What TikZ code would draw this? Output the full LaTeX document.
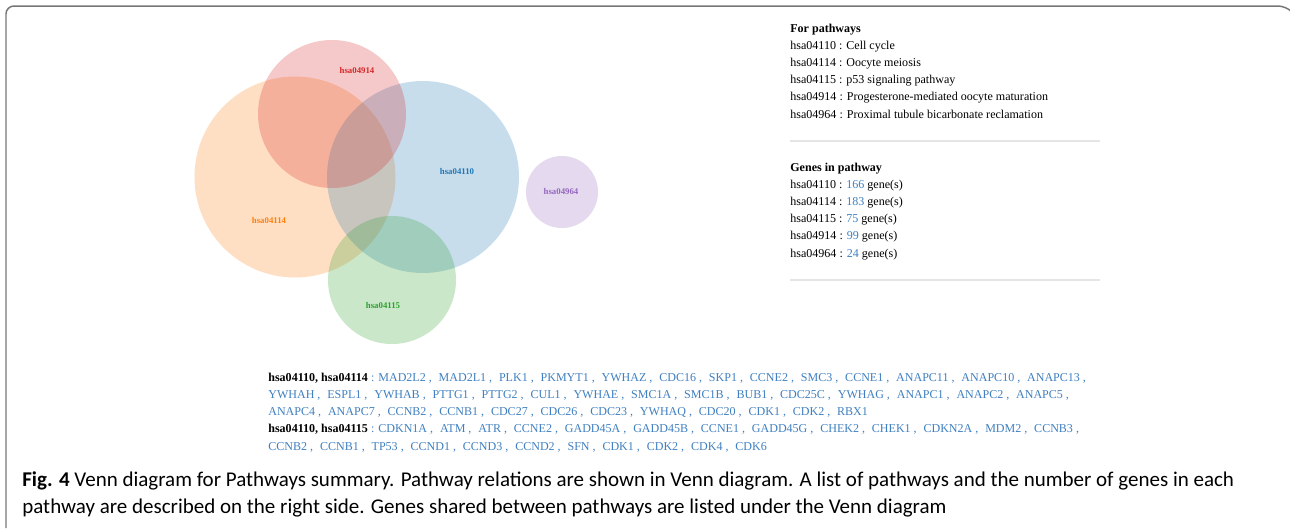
\documentclass[tikz,border=0pt]{standalone}
\usepackage{fontspec}
\setmainfont{Liberation Serif}
\newfontfamily\capfont{Carlito}

\definecolor{cBlue}{HTML}{1F77B4}
\definecolor{cOrange}{HTML}{FF7F0E}
\definecolor{cGreen}{HTML}{2CA02C}
\definecolor{cRed}{HTML}{D62728}
\definecolor{cPurple}{HTML}{9467BD}
\definecolor{geneblue}{HTML}{3F7FC0}
\definecolor{framegray}{HTML}{767676}

\tikzstyle{venn} = [fill opacity=0.25]
\tikzstyle{vlabel} = [inner sep=0pt, font=\fontsize{5}{6}\selectfont\bfseries]
\tikzstyle{info} = [anchor=base west, align=left, inner sep=0pt, font=\fontsize{6.85}{9.7}\selectfont]
\tikzstyle{rule} = [draw=black!10, line width=0.6pt]
\tikzstyle{caption} = [anchor=base west, inner sep=0pt, font=\capfont\fontsize{11.95}{15.3}\selectfont]

\newcommand{\gn}[1]{\textcolor{geneblue}{#1}}
\newcommand{\gsep}{ ,\hspace{3.9pt}}

\begin{document}
\begin{tikzpicture}[x=0.02cm, y=-0.02cm]
    %\draw[step=50,gray,very thin] (0,0) grid (1290,528);
    \useasboundingbox (0,0) rectangle (1290,528);
    \draw [framegray, line width=0.85pt, rounded corners=4.5pt] (6,528) -- (6,6) -- (1286,6) -- (1290,10);

    % venn circles
    \fill [venn, cOrange] (295,177) circle (100.5);
    \fill [venn, cBlue] (423,177) circle (96);
    \fill [venn, cGreen] (392,280) circle (64);
    \fill [venn, cRed] (332,114) circle (74);
    \fill [venn, cPurple] (562,192) circle (36);
    \node (hsa04914) at (357,70) [vlabel, cRed] {hsa04914};
    \node (hsa04110) at (457,171) [vlabel, cBlue] {hsa04110};
    \node (hsa04114) at (269,220) [vlabel, cOrange] {hsa04114};
    \node (hsa04115) at (383,305) [vlabel, cGreen] {hsa04115};
    \node (hsa04964) at (561,191) [vlabel, cPurple] {hsa04964};

    % right side (base = last line)
    \node (Pathways) at (790,118) [info] {\textbf{For pathways}\\
        hsa04110 : Cell cycle\\
        hsa04114 : Oocyte meiosis\\
        hsa04115 : p53 signaling pathway\\
        hsa04914 : Progesterone-mediated oocyte maturation\\
        hsa04964 : Proximal tubule bicarbonate reclamation};
    \draw [rule] (790,141) -- (1100,141);
    \node (Genes) at (790,257) [info] {\textbf{Genes in pathway}\\
        hsa04110 : \gn{166} gene(s)\\
        hsa04114 : \gn{183} gene(s)\\
        hsa04115 : \gn{75} gene(s)\\
        hsa04914 : \gn{99} gene(s)\\
        hsa04964 : \gn{24} gene(s)};
    \draw [rule] (790,280) -- (1100,280);

    % shared genes
    \node (Shared) at (268,450) [info] {\textbf{hsa04110, hsa04114} \gn{: MAD2L2\gsep MAD2L1\gsep PLK1\gsep PKMYT1\gsep YWHAZ\gsep CDC16\gsep SKP1\gsep CCNE2\gsep SMC3\gsep CCNE1\gsep ANAPC11\gsep ANAPC10\gsep ANAPC13 ,}\\
        \gn{YWHAH\gsep ESPL1\gsep YWHAB\gsep PTTG1\gsep PTTG2\gsep CUL1\gsep YWHAE\gsep SMC1A\gsep SMC1B\gsep BUB1\gsep CDC25C\gsep YWHAG\gsep ANAPC1\gsep ANAPC2\gsep ANAPC5 ,}\\
        \gn{ANAPC4\gsep ANAPC7\gsep CCNB2\gsep CCNB1\gsep CDC27\gsep CDC26\gsep CDC23\gsep YWHAQ\gsep CDC20\gsep CDK1\gsep CDK2\gsep RBX1}\\
        \textbf{hsa04110, hsa04115} \gn{: CDKN1A\gsep ATM\gsep ATR\gsep CCNE2\gsep GADD45A\gsep GADD45B\gsep CCNE1\gsep GADD45G\gsep CHEK2\gsep CHEK1\gsep CDKN2A\gsep MDM2\gsep CCNB3 ,}\\
        \gn{CCNB2\gsep CCNB1\gsep TP53\gsep CCND1\gsep CCND3\gsep CCND2\gsep SFN\gsep CDK1\gsep CDK2\gsep CDK4\gsep CDK6}};

    % caption
    \node (Caption1) at (22,486) [caption] {\textbf{Fig. 4} Venn diagram for Pathways summary. Pathway relations are shown in Venn diagram. A list of pathways and the number of genes in each};
    \node (Caption2) at (22,513) [caption] {pathway are described on the right side. Genes shared between pathways are listed under the Venn diagram};
\end{tikzpicture}
\end{document}
